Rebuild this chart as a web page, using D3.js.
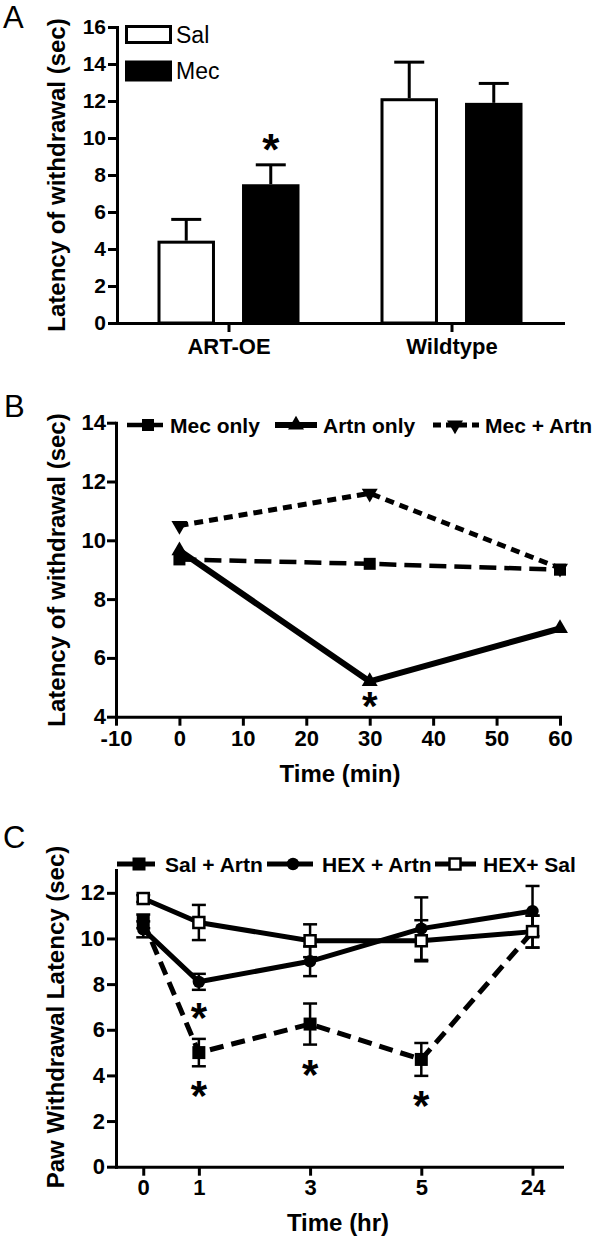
<!DOCTYPE html>
<html><head><meta charset="utf-8">
<script src="https://cdn.jsdelivr.net/npm/d3@7"></script>
<style>body{margin:0;background:#fff} svg{display:block} text{font-family:"Liberation Sans",Arial,Helvetica,sans-serif}</style>
</head><body><svg id="c" width="600" height="1239"></svg>
<script>
// ---------- Panel A data ----------
const groupsA = ["ART-OE", "Wildtype"];
const seriesA = ["Sal", "Mec"];
const salMean = [4.45, 12.15];
const salErr = [1.15, 1.95];
const mecMean = [7.5, 11.9];
const mecErr = [1.05, 1.05];
const sigA = ["ART-OE"];            // Mec bar marked significant
const yTicksA = [0, 2, 4, 6, 8, 10, 12, 14, 16];

// ---------- Panel B data ----------
const timeB = [0, 30, 60];
const mecOnly = [9.35, 9.2, 9.0];
const artnOnly = [9.65, 5.2, 7.0];
const mecArtn = [10.5, 11.6, 9.05];
const xTicksB = [-10, 0, 10, 20, 30, 40, 50, 60];
const yTicksB = [4, 6, 8, 10, 12, 14];
const sigB = [30];                  // Artn only significant at 30 min

// ---------- Panel C data ----------
const hoursC = [0, 1, 3, 5, 24];
const timeLabelsC = ["0", "1", "3", "5", "24"];
const salArtn = [10.75, 5.0, 6.25, 4.7, 10.3];
const salArtnErr = [0.3, 0.6, 0.9, 0.72, 0.7];
const hexArtn = [10.4, 8.1, 9.0, 10.43, 11.2];
const hexArtnErr = [0.35, 0.35, 0.65, 1.37, 1.1];
const hexSal = [11.75, 10.7, 9.9, 9.9, 10.3];
const hexSalErr = [0.15, 0.77, 0.72, 0.9, 0.7];
const yTicksC = [0, 2, 4, 6, 8, 10, 12];
const sigC_hexArtn = [1];
const sigC_salArtn = [1, 3, 5];

const FONT = '"Liberation Sans",Arial,Helvetica,sans-serif';
const svg = d3.select("#c");
const plain = d => String(d);   // hyphen-minus like the reference ("-10")

function styleAxis(g, size) {
  g.attr("font-family", FONT).attr("font-size", size).attr("font-weight", "bold");
  g.select(".domain").attr("stroke-width", 3).attr("stroke-linecap", "square");
  g.selectAll(".tick line").attr("stroke-width", 3);
  g.selectAll(".tick text").attr("fill", "#000");
}
function panelLetter(t, x, y) {
  svg.append("text").attr("x", x).attr("y", y).attr("font-size", 31).text(t);
}
function yTitle(t, x, cy, size) {
  svg.append("text").attr("transform", `translate(${x},${cy}) rotate(-90)`)
    .attr("text-anchor", "middle").attr("font-weight", "bold").attr("font-size", size).text(t);
}
function xTitle(t, cx, y, size) {
  svg.append("text").attr("x", cx).attr("y", y).attr("text-anchor", "middle")
    .attr("font-weight", "bold").attr("font-size", size).text(t);
}
function star(x, cy, size) {
  // glyph centre sits ~0.57em above baseline
  svg.append("text").attr("x", x).attr("y", cy + size * 0.57).attr("text-anchor", "middle")
    .attr("font-weight", "bold").attr("font-size", size).text("*");
}

// ================= PANEL A =================
{
  const yA = d3.scaleLinear().domain([0, 16]).range([323, 27]);
  const xA = d3.scalePoint().domain(groupsA).range([117, 563]).padding(0.5);
  const xs = d3.scaleBand().domain(seriesA).range([-71, 71]).paddingInner(0.32);
  const bw = xs.bandwidth();
  const rows = [];
  groupsA.forEach((g, i) => {
    rows.push({ g, s: "Sal", v: salMean[i], e: salErr[i] });
    rows.push({ g, s: "Mec", v: mecMean[i], e: mecErr[i] });
  });
  const gA = svg.append("g");
  rows.forEach(r => {
    const cx = xA(r.g) + xs(r.s) + bw / 2;
    gA.append("line").attr("x1", cx).attr("x2", cx).attr("y1", yA(r.v)).attr("y2", yA(r.v + r.e))
      .attr("stroke", "#000").attr("stroke-width", 3);
    gA.append("line").attr("x1", cx - 15).attr("x2", cx + 15).attr("y1", yA(r.v + r.e)).attr("y2", yA(r.v + r.e))
      .attr("stroke", "#000").attr("stroke-width", 3);
  });
  rows.forEach(r => {
    const x0 = xA(r.g) + xs(r.s);
    if (r.s === "Sal") {
      gA.append("rect").attr("x", x0 + 1.5).attr("y", yA(r.v) + 1.5).attr("width", bw - 3)
        .attr("height", yA(0) - yA(r.v) - 1.5).attr("fill", "#fff").attr("stroke", "#000").attr("stroke-width", 3);
    } else {
      gA.append("rect").attr("x", x0).attr("y", yA(r.v)).attr("width", bw)
        .attr("height", yA(0) - yA(r.v)).attr("fill", "#000");
    }
  });
  sigA.forEach(g => {
    const i = groupsA.indexOf(g);
    star(xA(g) + xs("Mec") + bw / 2, yA(mecMean[i] + mecErr[i]) - 25, 44);
  });
  const ay = svg.append("g").attr("transform", "translate(117,0)")
    .call(d3.axisLeft(yA).tickValues(yTicksA).tickFormat(plain).tickSize(9).tickSizeOuter(0).tickPadding(2));
  styleAxis(ay, 21);
  const ax = svg.append("g").attr("transform", `translate(0,${yA(0)})`)
    .call(d3.axisBottom(xA).tickSize(9).tickSizeOuter(0).tickPadding(6));
  styleAxis(ax, 22);
  const lg = svg.append("g");
  seriesA.forEach((s, i) => {
    const y0 = 25 + i * 35.5;
    if (s === "Sal") {
      lg.append("rect").attr("x", 126.5).attr("y", y0 + 1.5).attr("width", 44).attr("height", 16)
        .attr("fill", "#fff").attr("stroke", "#000").attr("stroke-width", 3);
    } else {
      lg.append("rect").attr("x", 125).attr("y", y0).attr("width", 47).attr("height", 21).attr("fill", "#000");
    }
    lg.append("text").attr("x", 176).attr("y", y0 + 18).attr("font-size", 23).text(s);
  });
  yTitle("Latency of withdrawal (sec)", 65, 175, 24);
  panelLetter("A", 3, 28);
}

// ================= PANEL B =================
{
  const xB = d3.scaleLinear().domain([-10, 60]).range([116, 560]);
  const yB = d3.scaleLinear().domain([4, 14]).range([716.7, 422.7]);
  const series = [
    { name: "Mec only", vals: mecOnly, dash: "17,8", w: 4.5, sym: d3.symbolSquare, size: 144, rot: 0, lx: [127, 163], mx: 148, tx: 170, ldash: null },
    { name: "Artn only", vals: artnOnly, dash: null, w: 6, sym: d3.symbolTriangle, size: 110, rot: 0, lx: [275, 317], mx: 296, tx: 323, ldash: null },
    { name: "Mec + Artn", vals: mecArtn, dash: "9,6", w: 5, sym: d3.symbolTriangle, size: 110, rot: 180, lx: [433, 479], mx: 455, tx: 485, ldash: "8,5" }
  ];
  const line = d3.line().x((d, i) => xB(timeB[i])).y(d => yB(d));
  series.forEach(s => {
    svg.append("path").attr("d", line(s.vals)).attr("fill", "none").attr("stroke", "#000")
      .attr("stroke-width", s.w).attr("stroke-dasharray", s.dash).attr("stroke-linejoin", "round");
  });
  series.forEach(s => {
    s.vals.forEach((v, i) => {
      svg.append("path").attr("d", d3.symbol(s.sym, s.size)())
        .attr("transform", `translate(${xB(timeB[i])},${yB(v)}) rotate(${s.rot})`).attr("fill", "#000");
    });
  });
  sigB.forEach(t => {
    const i = timeB.indexOf(t);
    star(xB(t), yB(artnOnly[i]) + 16, 40);
  });
  const ay = svg.append("g").attr("transform", "translate(116,0)")
    .call(d3.axisLeft(yB).tickValues(yTicksB).tickFormat(plain).tickSize(9).tickSizeOuter(0).tickPadding(1));
  styleAxis(ay, 22);
  const ax = svg.append("g").attr("transform", `translate(0,${yB(4)})`)
    .call(d3.axisBottom(xB).tickValues(xTicksB).tickFormat(plain).tickSize(9).tickSizeOuter(0).tickPadding(5));
  styleAxis(ax, 22);
  const ly = 425;
  series.forEach(s => {
    svg.append("line").attr("x1", s.lx[0]).attr("x2", s.lx[1]).attr("y1", ly).attr("y2", ly)
      .attr("stroke", "#000").attr("stroke-width", s.w).attr("stroke-dasharray", s.ldash);
    svg.append("path").attr("d", d3.symbol(s.sym, s.size)())
      .attr("transform", `translate(${s.mx},${ly}) rotate(${s.rot})`).attr("fill", "#000");
    svg.append("text").attr("x", s.tx).attr("y", ly + 7.5).attr("font-size", 21).attr("font-weight", "bold").text(s.name);
  });
  yTitle("Latency of withdrawal (sec)", 65, 570, 24);
  xTitle("Time (min)", 340, 782, 24);
  panelLetter("B", 4, 417);
}

// ================= PANEL C =================
{
  const slot = h => (h > 5 ? 7 : h);   // broken axis: 24 h drawn after a gap
  const xC = d3.scaleLinear().domain([-0.49, 7.53]).range([116, 562]);
  const yC = d3.scaleLinear().domain([0, 13]).range([1166.7, 870]);
  const X = i => xC(slot(hoursC[i]));
  const series = [
    { name: "Sal + Artn", vals: salArtn, err: salArtnErr, dash: "14,8", w: 5, kind: "fsq", lx: [117, 155], mx: 139, tx: 165 },
    { name: "HEX + Artn", vals: hexArtn, err: hexArtnErr, dash: null, w: 5, kind: "circ", lx: [267, 313], mx: 293, tx: 322 },
    { name: "HEX+ Sal", vals: hexSal, err: hexSalErr, dash: null, w: 5, kind: "osq", lx: [435, 476], mx: 455, tx: 483 }
  ];
  const line = d3.line().x((d, i) => X(i)).y(d => yC(d));
  series.forEach(s => {
    svg.append("path").attr("d", line(s.vals)).attr("fill", "none").attr("stroke", "#000")
      .attr("stroke-width", s.w).attr("stroke-dasharray", s.dash).attr("stroke-linejoin", "round");
  });
  series.forEach(s => {
    s.vals.forEach((v, i) => {
      const x = X(i), y1 = yC(v - s.err[i]), y2 = yC(v + s.err[i]);
      const g = svg.append("g").attr("stroke", "#000").attr("stroke-width", 2.5);
      g.append("line").attr("x1", x).attr("x2", x).attr("y1", y1).attr("y2", y2);
      g.append("line").attr("x1", x - 7).attr("x2", x + 7).attr("y1", y1).attr("y2", y1);
      g.append("line").attr("x1", x - 7).attr("x2", x + 7).attr("y1", y2).attr("y2", y2);
    });
  });
  function marker(kind, x, y) {
    if (kind === "fsq") svg.append("rect").attr("x", x - 6.5).attr("y", y - 6.5).attr("width", 13).attr("height", 13).attr("fill", "#000");
    else if (kind === "circ") svg.append("circle").attr("cx", x).attr("cy", y).attr("r", 6.2).attr("fill", "#000");
    else svg.append("rect").attr("x", x - 5.5).attr("y", y - 5.5).attr("width", 11).attr("height", 11)
      .attr("fill", "#fff").attr("stroke", "#000").attr("stroke-width", 2.5);
  }
  series.forEach(s => s.vals.forEach((v, i) => marker(s.kind, X(i), yC(v))));
  sigC_hexArtn.forEach(h => { const i = hoursC.indexOf(h); star(X(i), yC(hexArtn[i] - hexArtnErr[i]) + 18, 42); });
  sigC_salArtn.forEach(h => { const i = hoursC.indexOf(h); star(X(i), yC(salArtn[i] - salArtnErr[i]) + 20, 42); });
  const ay = svg.append("g").attr("transform", "translate(116,0)")
    .call(d3.axisLeft(yC).tickValues(yTicksC).tickFormat(plain).tickSize(9).tickSizeOuter(0).tickPadding(2));
  styleAxis(ay, 22);
  const ax = svg.append("g").attr("transform", `translate(0,${yC(0)})`)
    .call(d3.axisBottom(xC).tickValues(hoursC.map(slot)).tickFormat((d, i) => timeLabelsC[i])
      .tickSize(9).tickSizeOuter(0).tickPadding(4));
  styleAxis(ax, 22);
  const ly = 864;
  series.forEach(s => {
    svg.append("line").attr("x1", s.lx[0]).attr("x2", s.lx[1]).attr("y1", ly).attr("y2", ly)
      .attr("stroke", "#000").attr("stroke-width", s.w);
    marker(s.kind, s.mx, ly);
    svg.append("text").attr("x", s.tx).attr("y", ly + 7.5).attr("font-size", 21).attr("font-weight", "bold").text(s.name);
  });
  yTitle("Paw Withdrawal Latency (sec)", 64, 1017, 24);
  xTitle("Time (hr)", 338, 1231, 24);
  panelLetter("C", 3, 848);
}
</script></body></html>
